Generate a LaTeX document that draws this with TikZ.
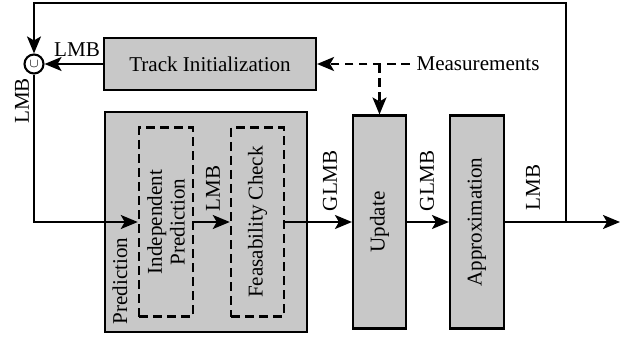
\documentclass[tikz,border=0pt]{standalone}
\usepackage{fontspec}
\setmainfont{Liberation Serif}
\usetikzlibrary{arrows.meta}

\definecolor{boxgray}{RGB}{200,200,200}

\begin{document}
\begin{tikzpicture}[
    font=\fontsize{12}{13}\selectfont,
    every path/.style={line width=1.2pt},
    block/.style={draw, fill=boxgray, line width=1.2pt},
    subblock/.style={draw, dash pattern=on 5pt off 3pt, line width=1.4pt, align=center},
    flow/.style={-{Stealth[length=3.4mm,width=2.8mm,inset=0.8mm]}},
    measflow/.style={flow, dash pattern=on 5pt off 3pt},
    vlabel/.style={rotate=90, anchor=west, inner sep=1pt}
]

\useasboundingbox (0,0) rectangle (12.62,6.78);

% blocks
\node[block, minimum width=4.24cm, minimum height=1.04cm] (trackinit) at (4.20,5.50) {Track Initialization};
\node[block, minimum width=4.04cm, minimum height=4.40cm] (pred) at (4.12,2.34) {};
\node[subblock, minimum width=1.08cm, minimum height=3.78cm] (indep) at (3.32,2.34) {};
\node[rotate=90, align=center] at (indep) {Independent\\Prediction};
\node[subblock, minimum width=1.06cm, minimum height=3.78cm] (feas) at (5.15,2.34) {};
\node[rotate=90] at (feas) {Feasability Check};
\node[block, minimum width=1.06cm, minimum height=4.26cm] (update) at (7.59,2.34) {};
\node[rotate=90] at (update) {Update};
\node[block, minimum width=1.08cm, minimum height=4.26cm] (approx) at (9.54,2.34) {};
\node[rotate=90] at (approx) {Approximation};
\node[vlabel] (predlabel) at (2.40,0.24) {Prediction};

\node[draw, circle, fill=white, inner sep=0pt, minimum size=0.38cm, font=\scriptsize] (union) at (0.68,5.50) {$\cup$};
\node (meas) at (9.56,5.50) {Measurements};

\coordinate (split) at (11.32,2.34);
\coordinate (out) at (12.40,2.34);
\coordinate (topleft) at (0.68,6.72);

% connectors
\draw[flow] (split) |- (topleft) -- (union);
\draw[flow] (trackinit) -- (union);
\draw[flow] (union) |- (indep.west);
\draw[flow] (indep) -- (feas);
\draw[flow] (feas) -- (update);
\draw[flow] (update) -- (approx);
\draw[flow] (approx) -- (out);
\draw[measflow] (meas) -- (trackinit);
\draw[measflow] (update.north |- meas) -- (update.north);

% labels
\node at (1.54,5.78) {LMB};
\node[rotate=90] at (0.44,4.76) {LMB};
\node[vlabel] at (4.26,2.50) {LMB};
\node[vlabel] at (6.60,2.50) {GLMB};
\node[vlabel] at (8.54,2.50) {GLMB};
\node[vlabel] at (10.66,2.52) {LMB};

\end{tikzpicture}
\end{document}
